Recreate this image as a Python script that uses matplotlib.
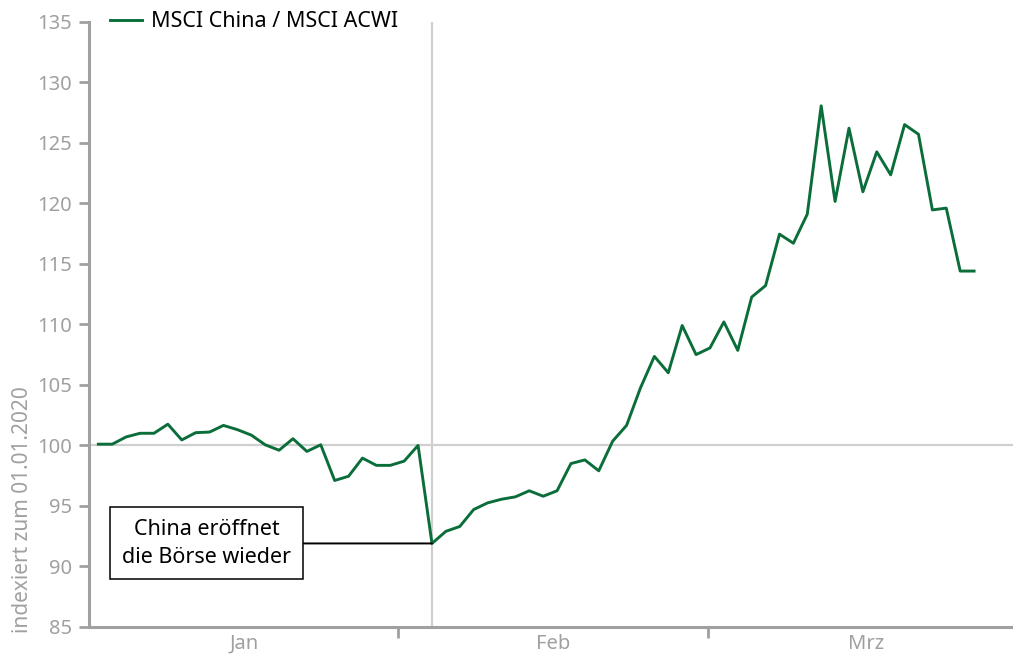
import numpy as np
import matplotlib
matplotlib.use('Agg')
import matplotlib.pyplot as plt

plt.rcParams['font.family'] = ['Noto Sans', 'DejaVu Sans']

# MSCI China / MSCI ACWI, indexiert zum 01.01.2020 (Handelstage)
jan = [100.1, 100.1, 100.7, 101.0, 101.0, 101.75, 100.45, 101.05, 101.1, 101.65,
       101.3, 100.85, 100.05, 99.6, 100.55, 99.5, 100.05, 97.1, 97.45, 98.95,
       98.35, 98.35, 98.7, 100.0]
feb = [91.9, 92.9, 93.3, 94.7, 95.25, 95.55, 95.75, 96.25, 95.8, 96.25,
       98.5, 98.8, 97.9, 100.35, 101.65, 104.75, 107.35, 106.0, 109.9, 107.5,
       108.05]
mrz = [110.2, 107.85, 112.25, 113.2, 117.45, 116.7, 119.1, 128.05, 120.15, 126.2,
       120.95, 124.25, 122.35, 126.5, 125.7, 119.45, 119.6, 114.4, 114.4]
werte = np.array(jan + feb + mrz)
monate = ['Jan', 'Feb', 'Mrz']
serie = 'MSCI China / MSCI ACWI'
ylabel = 'indexiert zum 01.01.2020'
notiz = 'China eröffnet\ndie Börse wieder'
reopen_idx = len(jan)  # erster Handelstag nach Wiedereröffnung

x = np.arange(len(werte))

gruen = '#0b6e3a'
grau = '#a0a0a0'
hell = '#cfcfcf'

fig = plt.figure(figsize=(10.13, 6.59), dpi=100)
ax = fig.add_axes([0.0879, 0.0486, 0.9121, 0.9185])

# Hilfslinien
ax.axhline(100, color=hell, lw=1.6, zorder=1)
ax.axvline(x[reopen_idx], color=hell, lw=1.6, zorder=1)

ax.plot(x, werte, color=gruen, lw=2.1, label=serie, zorder=3)

ax.set_xlim(-0.67, 65.8)
ax.set_ylim(85, 135)
ax.set_yticks(np.arange(85, 136, 5))

# Monatsgrenzen als Ticks, Monatsnamen mittig
ax.set_xticks([21.56, 43.86])
ax.set_xticklabels([])
ax.set_xticks([10.48, 32.7, 55.2], minor=True)
ax.set_xticklabels(monate, minor=True)
ax.tick_params(axis='x', which='major', length=8, width=2, color=grau)
ax.tick_params(axis='x', which='minor', length=0, pad=5, labelsize=14.5, labelcolor=grau)
ax.tick_params(axis='y', length=7, width=2, color=grau, pad=5, labelsize=14.5, labelcolor=grau)

for s in ['top', 'right']:
    ax.spines[s].set_visible(False)
for s in ['left', 'bottom']:
    ax.spines[s].set_color(grau)
    ax.spines[s].set_linewidth(2.2)

ax.set_ylabel(ylabel, loc='bottom', color=grau, fontsize=15)
ax.yaxis.set_label_coords(-0.061, -0.01)

ax.legend(loc='center left', bbox_to_anchor=(0.023, 1.0), frameon=False,
          fontsize=15.5, handlelength=1.45, handletextpad=0.42,
          borderpad=0, borderaxespad=0)

ax.annotate(notiz, xy=(x[reopen_idx], werte[reopen_idx]),
            xytext=(7.8, werte[reopen_idx]), textcoords='data',
            ha='center', va='center', fontsize=15.5, color='black',
            linespacing=1.4,
            bbox=dict(boxstyle='square,pad=0.55', fc='white', ec='black', lw=1.1),
            arrowprops=dict(arrowstyle='-', color='black', lw=1.4,
                            shrinkA=0, shrinkB=0))

plt.savefig('out.png', dpi=100)
plt.close()
